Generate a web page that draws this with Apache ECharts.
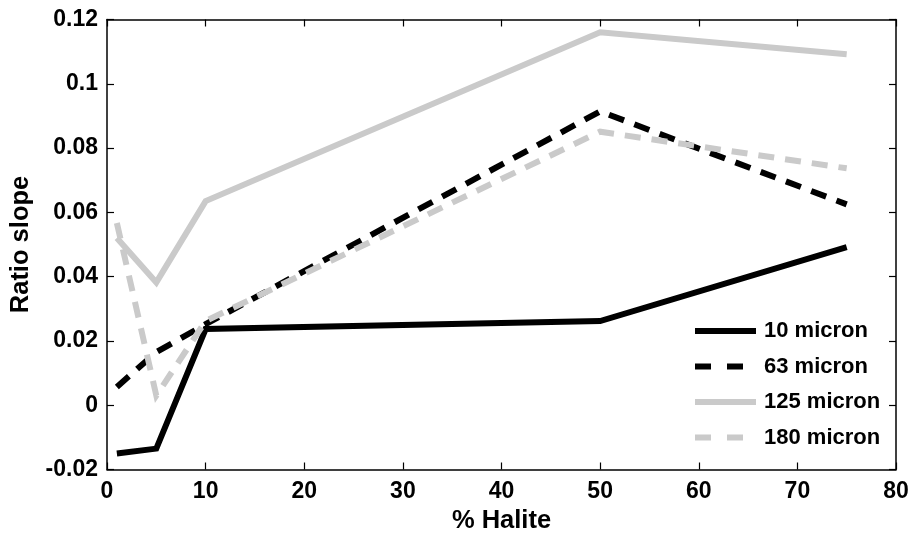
<!DOCTYPE html>
<html>
<head>
<meta charset="utf-8">
<script src="https://cdn.jsdelivr.net/npm/echarts@6/dist/echarts.min.js"></script>
<style>
  html, body { margin: 0; padding: 0; background: #fff; }
  #chart { width: 917px; height: 540px; }
</style>
</head>
<body>
<div id="chart"></div>
<script>
// % Halite in the mixture
const halite = [1, 5, 10, 50, 75];

// Ratio slope per grain size
const micron10  = [-0.0150, -0.0135, 0.0237, 0.0262, 0.0492];
const micron63  = [0.0057, 0.0165, 0.0252, 0.0914, 0.0625];
const micron125 = [0.0520, 0.0382, 0.0635, 0.1160, 0.1092];
const micron180 = [0.0567, 0.0030, 0.0262, 0.0851, 0.0737];

const seriesNames = ['10 micron', '63 micron', '125 micron', '180 micron'];

const BLACK = '#000000';
const GREY = '#cacaca';
const FONT = 'Liberation Sans, Arial, sans-serif';

// legend swatches, 61 units wide: one solid bar, or two dashes
// (a hair-sized end mark keeps the dashed swatch at full width)
const SOLID_ICON = 'path://M0,0H61V6H0Z';
const DASH_ICON = 'path://M0,0H16V6H0Z M32,0H48V6H32Z M60.95,2.95H61V3.05H60.95Z';

function pairs(ys) {
  return halite.map((x, i) => [x, ys[i]]);
}

function lineSeries(name, ys, color, dashed) {
  return {
    name: name,
    type: 'line',
    data: pairs(ys),
    symbol: 'none',
    showSymbol: false,
    smooth: false,
    lineStyle: {
      color: color,
      width: 6,
      type: dashed ? [16, 11] : 'solid',
      cap: 'butt',
      join: 'miter'
    },
    itemStyle: { color: color },
    emphasis: { disabled: true },
    animation: false
  };
}

function legendItem(name, dashed) {
  return { name: name, icon: dashed ? DASH_ICON : SOLID_ICON };
}

const frameLine = { show: true, onZero: false, lineStyle: { color: BLACK, width: 1.5 } };
const innerTick = { show: true, inside: true, length: 7, lineStyle: { color: BLACK, width: 1.2 } };

const chart = echarts.init(document.getElementById('chart'), null, { renderer: 'canvas' });

chart.setOption({
  backgroundColor: '#ffffff',
  animation: false,
  textStyle: { fontFamily: FONT },
  grid: { left: 106.5, right: 21, top: 19.5, bottom: 70.5, containLabel: false },
  legend: {
    show: true,
    orient: 'vertical',
    left: 695,
    top: 320,
    padding: 0,
    itemWidth: 61,
    itemHeight: 6,
    itemGap: 13.5,
    symbolKeepAspect: false,
    selectedMode: false,
    textStyle: { fontFamily: FONT, fontSize: 22, fontWeight: 'bold', color: BLACK, padding: [0, 0, 0, 3] },
    data: [
      legendItem(seriesNames[0], false),
      legendItem(seriesNames[1], true),
      legendItem(seriesNames[2], false),
      legendItem(seriesNames[3], true)
    ]
  },
  xAxis: [
    {
      type: 'value',
      min: 0, max: 80, interval: 10,
      name: '% Halite',
      nameLocation: 'middle',
      nameGap: 38,
      nameTextStyle: { fontFamily: FONT, fontSize: 25.5, fontWeight: 'bold', color: BLACK },
      axisLine: frameLine,
      axisTick: innerTick,
      axisLabel: { fontFamily: FONT, fontSize: 23, fontWeight: 'bold', color: BLACK, margin: 11 },
      splitLine: { show: false }
    },
    {
      type: 'value',
      position: 'top',
      min: 0, max: 80, interval: 10,
      axisLine: frameLine,
      axisTick: innerTick,
      axisLabel: { show: false },
      splitLine: { show: false }
    }
  ],
  yAxis: [
    {
      type: 'value',
      min: -0.02, max: 0.12, interval: 0.02,
      name: 'Ratio slope',
      nameLocation: 'middle',
      nameGap: 73,
      nameTextStyle: { fontFamily: FONT, fontSize: 25.5, fontWeight: 'bold', color: BLACK },
      axisLine: frameLine,
      axisTick: innerTick,
      axisLabel: {
        fontFamily: FONT, fontSize: 23, fontWeight: 'bold', color: BLACK, margin: 9,
        formatter: v => String(parseFloat(v.toFixed(4)))
      },
      splitLine: { show: false }
    },
    {
      type: 'value',
      position: 'right',
      min: -0.02, max: 0.12, interval: 0.02,
      axisLine: frameLine,
      axisTick: innerTick,
      axisLabel: { show: false },
      splitLine: { show: false }
    }
  ],
  series: [
    lineSeries(seriesNames[0], micron10, BLACK, false),
    lineSeries(seriesNames[1], micron63, BLACK, true),
    lineSeries(seriesNames[2], micron125, GREY, false),
    lineSeries(seriesNames[3], micron180, GREY, true)
  ]
});
</script>
</body>
</html>
